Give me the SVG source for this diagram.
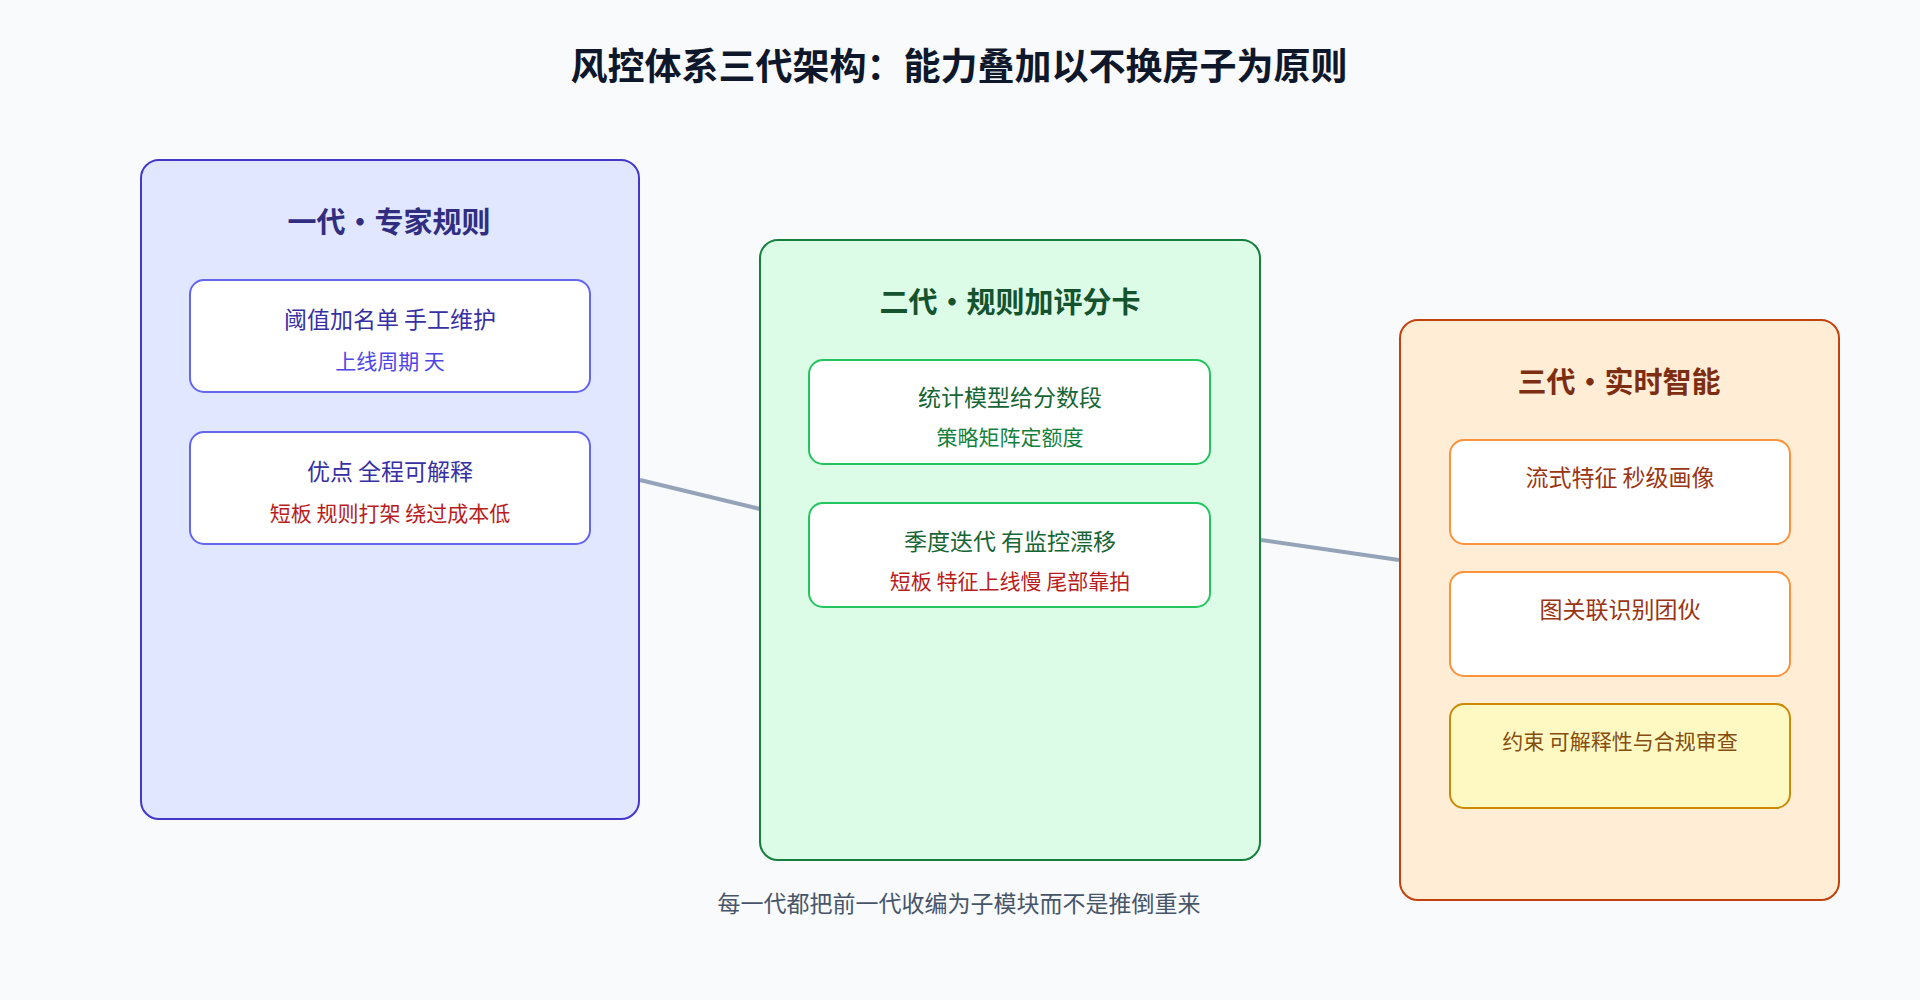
<svg xmlns="http://www.w3.org/2000/svg" width="1920" height="1000" viewBox="0 0 1920 1000">
<style>
text{font-family:"Noto Sans CJK SC","Noto Sans",sans-serif;text-anchor:middle;dominant-baseline:central}
.t{font-size:37px;font-weight:700;fill:#0f172a}
.h{font-size:29px;font-weight:700}
.l1{font-size:23px}
.l2{font-size:21px}
.red{fill:#b91c1c}
.in{fill:#fff;stroke-width:2}
</style>
<rect width="1920" height="1000" fill="#f8fafc"/>
<text class="t" x="959" y="64">风控体系三代架构：能力叠加以不换房子为原则</text>
<g id="connectors" stroke="#94a3b8" stroke-width="4">
<line x1="640" y1="480" x2="760" y2="509"/>
<line x1="1261" y1="540" x2="1399" y2="560"/>
</g>
<g id="gen1">
<rect x="141" y="160" width="498" height="659" rx="18" fill="#e0e7ff" stroke="#4338ca" stroke-width="2"/>
<text class="h" x="389" y="220" fill="#312e81">一代・专家规则</text>
<rect class="in" x="190" y="280" width="400" height="112" rx="14" stroke="#6366f1"/>
<text class="l1" x="390" y="318" fill="#3730a3">阈值加名单 手工维护</text>
<text class="l2" x="390" y="360" fill="#4f46e5">上线周期 天</text>
<rect class="in" x="190" y="432" width="400" height="112" rx="14" stroke="#6366f1"/>
<text class="l1" x="390" y="470" fill="#3730a3">优点 全程可解释</text>
<text class="l2 red" x="390" y="512">短板 规则打架 绕过成本低</text>
</g>
<g id="gen2">
<rect x="760" y="240" width="500" height="620" rx="18" fill="#dcfce7" stroke="#15803d" stroke-width="2"/>
<text class="h" x="1010" y="300" fill="#14532d">二代・规则加评分卡</text>
<rect class="in" x="809" y="360" width="401" height="104" rx="14" stroke="#22c55e"/>
<text class="l1" x="1010" y="396" fill="#166534">统计模型给分数段</text>
<text class="l2" x="1010" y="436" fill="#15803d">策略矩阵定额度</text>
<rect class="in" x="809" y="503" width="401" height="104" rx="14" stroke="#22c55e"/>
<text class="l1" x="1010" y="540" fill="#166534">季度迭代 有监控漂移</text>
<text class="l2 red" x="1010" y="580">短板 特征上线慢 尾部靠拍</text>
</g>
<g id="gen3">
<rect x="1400" y="320" width="439" height="580" rx="18" fill="#ffedd5" stroke="#c2410c" stroke-width="2"/>
<text class="h" x="1619" y="380" fill="#7c2d12">三代・实时智能</text>
<rect class="in" x="1450" y="440" width="340" height="104" rx="14" stroke="#fb923c"/>
<text class="l1" x="1620" y="476" fill="#9a3412">流式特征 秒级画像</text>
<rect class="in" x="1450" y="572" width="340" height="104" rx="14" stroke="#fb923c"/>
<text class="l1" x="1620" y="608" fill="#9a3412">图关联识别团伙</text>
<rect x="1450" y="704" width="340" height="104" rx="14" fill="#fef9c3" stroke="#ca8a04" stroke-width="2"/>
<text class="l2" x="1620" y="740" fill="#854d0e">约束 可解释性与合规审查</text>
</g>
<text x="959" y="902" font-size="23" fill="#475569">每一代都把前一代收编为子模块而不是推倒重来</text>
</svg>
